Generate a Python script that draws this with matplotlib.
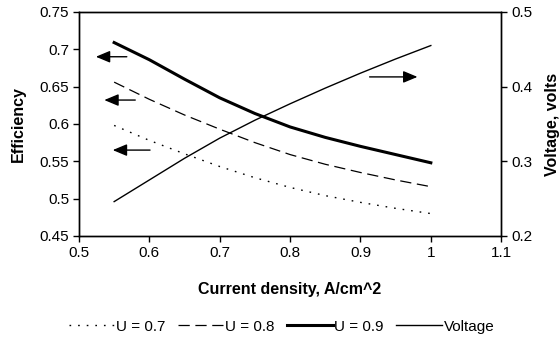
import numpy as np
import matplotlib.pyplot as plt

plt.rcParams['font.family'] = ['Liberation Sans', 'DejaVu Sans']
plt.rcParams['font.size'] = 11

# current density, A/cm^2
j = [0.55, 0.60, 0.65, 0.70, 0.75, 0.80, 0.85, 0.90, 0.95, 1.00]
# efficiency at different fuel utilisation U
eff_u07 = [0.598, 0.578, 0.560, 0.543, 0.528, 0.515, 0.504, 0.495, 0.487, 0.480]
eff_u08 = [0.656, 0.633, 0.612, 0.593, 0.575, 0.559, 0.546, 0.535, 0.525, 0.516]
eff_u09 = [0.709, 0.686, 0.660, 0.635, 0.614, 0.596, 0.582, 0.570, 0.559, 0.548]
# cell voltage, volts
voltage = [0.246, 0.275, 0.304, 0.331, 0.355, 0.377, 0.398, 0.418, 0.437, 0.455]

fig = plt.figure(figsize=(5.6, 3.41), dpi=100)
ax = fig.add_axes([0.141, 0.308, 0.754, 0.657])
ax2 = ax.twinx()

l1, = ax.plot(j, eff_u07, color='black', lw=1.0, linestyle=(0, (1.2, 5)), label='U = 0.7')
l2, = ax.plot(j, eff_u08, color='black', lw=0.9, linestyle=(0, (9, 4.5)), label='U = 0.8')
l3, = ax.plot(j, eff_u09, color='black', lw=2.2, label='U = 0.9')
l4, = ax2.plot(j, voltage, color='black', lw=1.0, label='Voltage')

ax.set_xlim(0.5, 1.1)
ax.set_ylim(0.45, 0.75)
ax2.set_ylim(0.2, 0.5)
ax.set_xticks(np.arange(0.5, 1.11, 0.1))
ax.set_xticklabels(['0.5', '0.6', '0.7', '0.8', '0.9', '1', '1.1'])
ax.set_yticks(np.arange(0.45, 0.751, 0.05))
ax.set_yticklabels(['0.45', '0.5', '0.55', '0.6', '0.65', '0.7', '0.75'])
ax2.set_yticks([0.2, 0.3, 0.4, 0.5])
ax2.set_yticklabels(['0.2', '0.3', '0.4', '0.5'])

for a in (ax, ax2):
    a.tick_params(direction='out', length=4, width=1, pad=3)
    for s in a.spines.values():
        s.set_linewidth(1.0)

ax.set_xlabel('Current density, A/cm^2', fontweight='bold', fontsize=11.5, labelpad=16)
ax.set_ylabel('Efficiency', fontweight='bold', fontsize=11.5, labelpad=10)
ax2.set_ylabel('Voltage, volts', fontweight='bold', fontsize=11.5, labelpad=9)

# arrows pointing to the relevant axis
arrow = dict(arrowstyle='-|>,head_length=0.86,head_width=0.36', color='black',
             lw=1.0, mutation_scale=10, shrinkA=0, shrinkB=0)
ax.annotate('', xy=(0.524, 0.690), xytext=(0.568, 0.690), arrowprops=arrow)
ax.annotate('', xy=(0.536, 0.632), xytext=(0.580, 0.632), arrowprops=arrow)
ax.annotate('', xy=(0.548, 0.565), xytext=(0.601, 0.565), arrowprops=arrow)
ax.annotate('', xy=(0.981, 0.663), xytext=(0.913, 0.663), arrowprops=arrow)

fig.legend(handles=[l1, l2, l3, l4], loc='center', bbox_to_anchor=(0.503, 0.042),
           ncol=4, frameon=False, handlelength=3.0, handletextpad=0.1,
           columnspacing=0.8, fontsize=11)

fig.savefig('out.png', dpi=100)
